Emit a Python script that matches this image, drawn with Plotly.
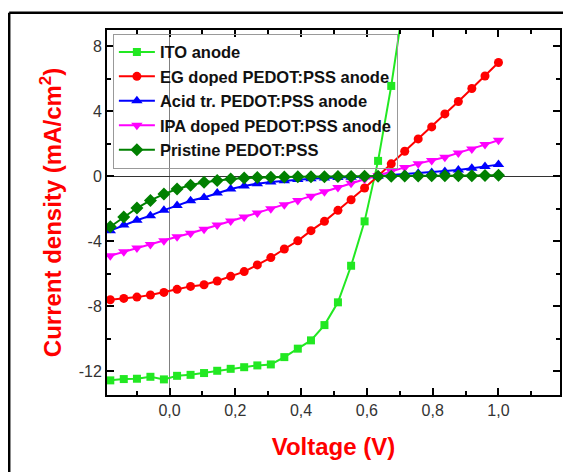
import plotly.graph_objects as go

# ---- data ----
voltage = [-0.18, -0.139, -0.099, -0.058, -0.017, 0.023, 0.064, 0.105, 0.145, 0.186,
           0.227, 0.267, 0.308, 0.349, 0.390, 0.430, 0.471, 0.512, 0.552, 0.593,
           0.634, 0.674, 0.715, 0.756, 0.797, 0.837, 0.878, 0.919, 0.959, 1.000]

ito_anode = [-12.55, -12.47, -12.45, -12.33, -12.49, -12.27, -12.21, -12.10, -11.96, -11.84,
             -11.74, -11.63, -11.57, -11.12, -10.60, -10.09, -9.15, -7.75, -5.50, -2.77,
             0.95, 5.56, 11.10]

eg_doped = [-7.59, -7.51, -7.43, -7.30, -7.14, -6.95, -6.77, -6.67, -6.44, -6.15,
            -5.86, -5.45, -5.00, -4.47, -3.97, -3.34, -2.77, -2.09, -1.44, -0.72,
            0.02, 0.77, 1.54, 2.30, 3.04, 3.84, 4.60, 5.40, 6.17, 7.00]

acid_treated = [-3.34, -3.00, -2.70, -2.42, -2.08, -1.80, -1.50, -1.30, -1.03, -0.78,
                -0.60, -0.45, -0.35, -0.27, -0.20, -0.15, -0.10, -0.07, -0.05, -0.03,
                0.00, 0.08, 0.14, 0.19, 0.24, 0.30, 0.39, 0.49, 0.60, 0.72]

ipa_doped = [-4.88, -4.64, -4.41, -4.20, -3.97, -3.72, -3.50, -3.26, -3.00, -2.75,
             -2.50, -2.25, -2.00, -1.75, -1.48, -1.22, -0.95, -0.68, -0.42, -0.18,
             0.05, 0.31, 0.55, 0.78, 0.97, 1.17, 1.44, 1.68, 1.95, 2.22]

pristine = [-3.10, -2.50, -1.95, -1.48, -1.09, -0.78, -0.55, -0.37, -0.25, -0.16,
            -0.10, -0.07, -0.05, -0.04, -0.03, -0.02, -0.02, -0.01, -0.01, 0.00,
            0.00, 0.01, 0.02, 0.02, 0.03, 0.03, 0.04, 0.04, 0.05, 0.06]

series_names = ["ITO anode", "EG doped PEDOT:PSS anode", "Acid tr. PEDOT:PSS anode",
                "IPA doped PEDOT:PSS anode", "Pristine PEDOT:PSS"]

y_tick_vals = [-12, -8, -4, 0, 4, 8]
y_tick_text = ["-12", "-8", "-4", "0", "4", "8"]
x_tick_vals = [0.0, 0.2, 0.4, 0.6, 0.8, 1.0]
x_tick_text = ["0,0", "0,2", "0,4", "0,6", "0,8", "1,0"]

# ---- figure ----
# the page has an 8px body margin, so the figure is sized/positioned to compensate
W, H = 563, 464
ML, MR, MT, MB = 99, 11, 22, 77
PW, PH = W - ML - MR, H - MT - MB
FONT = "Liberation Sans, Arial, sans-serif"

styles = [
    dict(color="#22e822", symbol="square", size=8),
    dict(color="#ff0000", symbol="circle", size=9),
    dict(color="#0000ff", symbol="triangle-up", size=10),
    dict(color="#ff00ff", symbol="triangle-down", size=10),
    dict(color="#008000", symbol="diamond", size=10),
]
all_y = [ito_anode, eg_doped, acid_treated, ipa_doped, pristine]

fig = go.Figure()
for name, ys, st in zip(series_names, all_y, styles):
    fig.add_trace(go.Scatter(
        x=voltage[:len(ys)], y=ys, name=name, mode="lines+markers",
        line=dict(color=st["color"], width=2),
        marker=dict(color=st["color"], symbol=st["symbol"], size=st["size"]),
    ))

axis_common = dict(
    showline=True, linewidth=2, linecolor="black", mirror="allticks",
    ticks="inside", ticklen=7, tickwidth=2, tickcolor="black",
    showgrid=False,
    tickfont=dict(family=FONT, size=16, color="#333333"),
)

fig.update_layout(
    width=W, height=H,
    margin=dict(l=ML, r=MR, t=MT, b=MB, autoexpand=False),
    paper_bgcolor="white", plot_bgcolor="white",
    separators=",.",
    font=dict(family=FONT),
    xaxis=dict(
        range=[-0.19, 1.187],
        tickmode="array", tickvals=x_tick_vals, ticktext=x_tick_text,
        minor=dict(tickmode="linear", tick0=0, dtick=0.1, ticks="inside", ticklen=4,
                   tickwidth=2, tickcolor="black", showgrid=False),
        zeroline=True, zerolinecolor="#808080", zerolinewidth=1.2,
        title=dict(text="<b>Voltage (V)</b>", standoff=20,
                   font=dict(family=FONT, size=24, color="#ff0000")),
        automargin=False,
        **axis_common,
    ),
    yaxis=dict(
        range=[-13.45, 9.0],
        tickmode="array", tickvals=y_tick_vals, ticktext=y_tick_text,
        minor=dict(tickmode="linear", tick0=0, dtick=2, ticks="inside", ticklen=4,
                   tickwidth=2, tickcolor="black", showgrid=False),
        zeroline=True, zerolinecolor="#333333", zerolinewidth=1.2,
        title=dict(text="<b>Current density (mA/cm<sup>2</sup>)</b>", standoff=10,
                   font=dict(family=FONT, size=24, color="#ff0000")),
        automargin=False,
        **axis_common,
    ),
    legend=dict(
        x=0.013, y=0.99, xanchor="left", yanchor="top",
        bgcolor="rgba(255,255,255,0)", bordercolor="#999999", borderwidth=1,
        font=dict(family=FONT, size=16.5, color="#111111", weight="bold"),
        itemwidth=36, tracegroupgap=0,
    ),
    showlegend=True,
)

# outer frame (top and left edges) around the figure
fx0 = (1.2 - ML) / PW
fx1 = (W + 5 - ML) / PW
fy_top = (H - MB - 4.7) / PH
fy_bot = (H - MB - (H + 5)) / PH
fig.add_shape(type="line", xref="paper", yref="paper", x0=fx0, x1=fx1, y0=fy_top, y1=fy_top,
              line=dict(color="black", width=2.5))
fig.add_shape(type="line", xref="paper", yref="paper", x0=fx0, x1=fx0, y0=fy_top, y1=fy_bot,
              line=dict(color="black", width=2.5))

fig.write_html("out.html")
